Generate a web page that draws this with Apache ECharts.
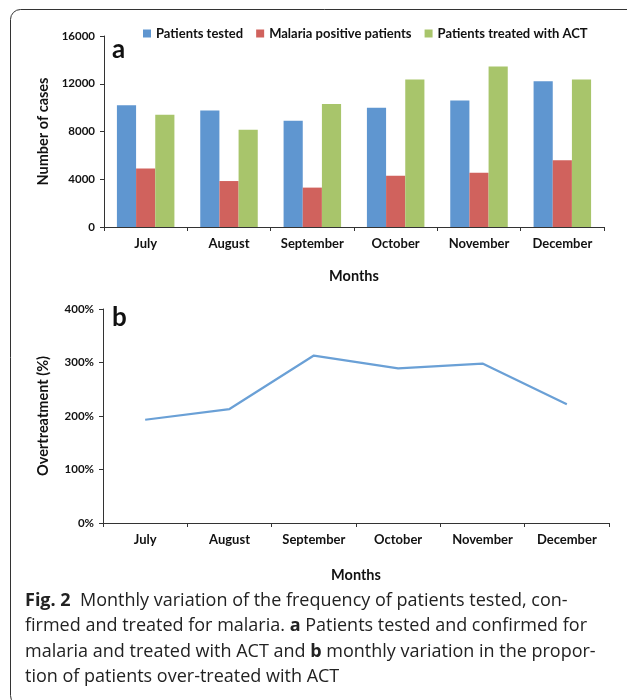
<!DOCTYPE html>
<html>
<head>
<meta charset="utf-8">
<script src="https://cdn.jsdelivr.net/npm/echarts@6/dist/echarts.min.js"></script>
<style>
  html, body { margin: 0; padding: 0; background: #fff; }
  #main { width: 627px; height: 700px; }
</style>
</head>
<body>
<div id="main"></div>
<script>
// data
var months = ['July', 'August', 'September', 'October', 'November', 'December'];
var tested = [10200, 9750, 8900, 10000, 10600, 12200];
var positive = [4900, 3850, 3300, 4300, 4550, 5600];
var treatedACT = [9400, 8150, 10300, 12350, 13450, 12350];
var overtreatment = [193, 213, 313, 289, 298, 222];
var casesTicks = [0, 16000, 4000];   // min, max, interval
var pctTicks = [0, 400, 100];

var chartFont = 'Lato';
var capFont = 'Open Sans';

var myChart = echarts.init(document.getElementById('main'));

var axisLine = { show: true, lineStyle: { color: '#333', width: 1 } };
var tickStyle = { show: true, length: 4, lineStyle: { color: '#333' } };
var labelStyle = { color: '#111', fontFamily: chartFont, fontWeight: 'bold', fontSize: 11.5 };
var catLabel = { color: '#111', fontFamily: chartFont, fontWeight: 'bold', fontSize: 13, margin: 10 };
var nameStyle = { color: '#111', fontFamily: chartFont, fontWeight: 'bold', fontSize: 14.5 };

var option = {
    animation: false,
    color: ['#5f96d0', '#d0625d', '#a8c56b'],
    legend: {
        left: 138,
        top: 22,
        itemWidth: 8,
        itemHeight: 8,
        itemGap: 13,
        icon: 'rect',
        textStyle: { color: '#111', fontFamily: chartFont, fontWeight: 'bold', fontSize: 13 },
        data: ['Patients tested', 'Malaria positive patients', 'Patients treated with ACT']
    },
    grid: [
        { left: 104, top: 36, width: 500, height: 191 },
        { left: 103, top: 309, width: 506, height: 214 }
    ],
    xAxis: [
        {
            gridIndex: 0,
            type: 'category',
            data: months,
            axisLine: axisLine,
            axisTick: tickStyle,
            axisLabel: catLabel,
            name: 'Months',
            nameLocation: 'middle',
            nameGap: 42,
            nameTextStyle: nameStyle
        },
        {
            gridIndex: 1,
            type: 'category',
            data: months,
            axisLine: axisLine,
            axisTick: tickStyle,
            axisLabel: catLabel,
            name: 'Months',
            nameLocation: 'middle',
            nameGap: 45,
            nameTextStyle: nameStyle
        }
    ],
    yAxis: [
        {
            gridIndex: 0,
            type: 'value',
            min: casesTicks[0],
            max: casesTicks[1],
            interval: casesTicks[2],
            axisLine: axisLine,
            axisTick: tickStyle,
            splitLine: { show: false },
            axisLabel: Object.assign({ margin: 9, formatter: function (v) { return String(v); } }, labelStyle),
            name: 'Number of cases',
            nameLocation: 'middle',
            nameGap: 52,
            nameTextStyle: nameStyle
        },
        {
            gridIndex: 1,
            type: 'value',
            min: pctTicks[0],
            max: pctTicks[1],
            interval: pctTicks[2],
            axisLine: axisLine,
            axisTick: tickStyle,
            splitLine: { show: false },
            axisLabel: Object.assign({ margin: 9, formatter: '{value}%' }, labelStyle),
            name: 'Overtreatment (%)',
            nameLocation: 'middle',
            nameGap: 52,
            nameTextStyle: nameStyle
        }
    ],
    series: [
        {
            name: 'Patients tested', type: 'bar', xAxisIndex: 0, yAxisIndex: 0,
            data: tested, barGap: '0%', barCategoryGap: '31%'
        },
        {
            name: 'Malaria positive patients', type: 'bar', xAxisIndex: 0, yAxisIndex: 0,
            data: positive, barGap: '0%', barCategoryGap: '31%'
        },
        {
            name: 'Patients treated with ACT', type: 'bar', xAxisIndex: 0, yAxisIndex: 0,
            data: treatedACT, barGap: '0%', barCategoryGap: '31%'
        },
        {
            name: 'Overtreatment', type: 'line', xAxisIndex: 1, yAxisIndex: 1,
            data: overtreatment, showSymbol: false, symbol: 'none',
            lineStyle: { color: '#6aa0d6', width: 2.2 }
        }
    ],
    graphic: [
        // frame round the figure
        {
            type: 'rect', silent: true,
            shape: { x: 10.5, y: 9.5, width: 660, height: 696, r: 10 },
            style: { fill: 'none', stroke: '#333', lineWidth: 1 }
        },
        // panel letters
        {
            type: 'text', left: 112, top: 37,
            style: { text: 'a', fill: '#111', font: 'bold 26px ' + chartFont }
        },
        {
            type: 'text', left: 112, top: 305,
            style: { text: 'b', fill: '#111', font: 'bold 26px ' + chartFont }
        },
        // caption
        {
            type: 'text', left: 25, top: 588,
            style: {
                text: '{b|Fig. 2}  Monthly variation of the frequency of patients tested, con-\n' +
                      'firmed and treated for malaria. {b|a} Patients tested and confirmed for\n' +
                      'malaria and treated with ACT and {b|b} monthly variation in the propor-\n' +
                      'tion of patients over-treated with ACT',
                fill: '#222',
                font: '18px ' + capFont,
                lineHeight: 25.5,
                rich: {
                    b: { fontWeight: 'bold', fontFamily: capFont, fontSize: 18, fill: '#222', lineHeight: 25.5 }
                }
            }
        }
    ]
};

myChart.setOption(option);
</script>
</body>
</html>
